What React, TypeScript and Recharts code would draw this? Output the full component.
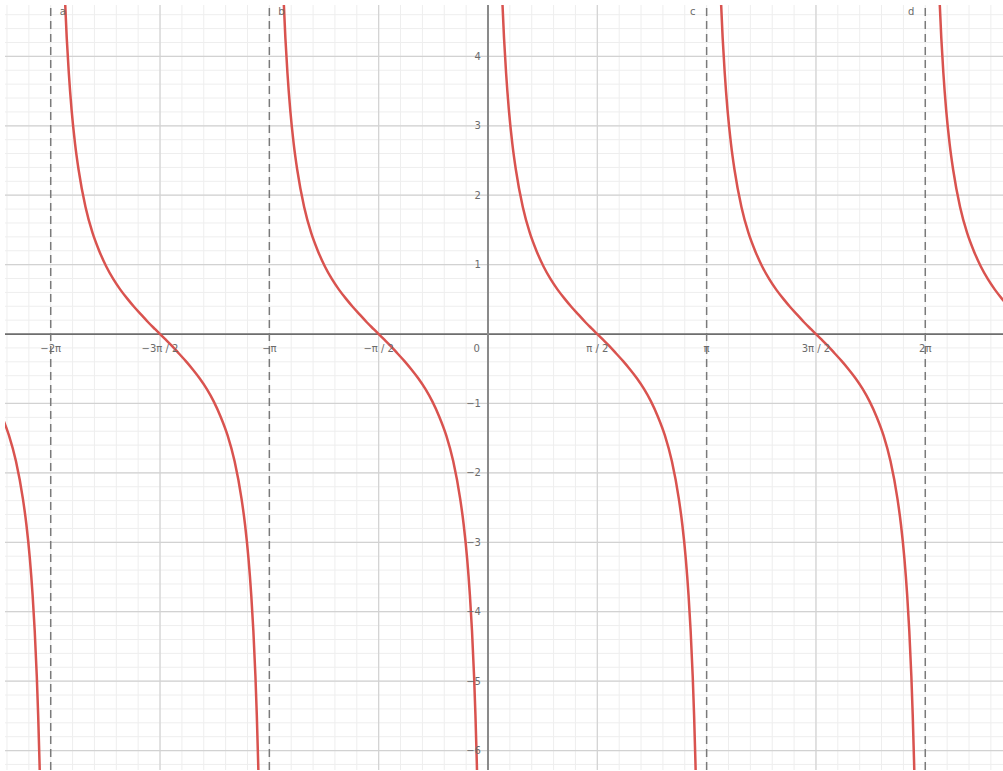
import { LineChart, Line, XAxis, YAxis, ReferenceLine, ReferenceDot } from 'recharts';

const PI = Math.PI;

// visible window of the graph
const xDomain = [-6.94, 7.4];
const yDomain = [-6.28, 4.74];

// one cot branch, offsets from its left asymptote and the read heights
const branchOffsets = [
  0.12, 0.14, 0.16, 0.18, 0.2, 0.23, 0.26, 0.3, 0.35, 0.4, 0.5, 0.6, 0.7, 0.8, 0.9, 1.0, 1.1, 1.2, 1.3, 1.4, 1.5,
  1.5708, 1.6416, 1.7416, 1.8416, 1.9416, 2.0416, 2.1416, 2.2416, 2.3416, 2.4416, 2.5416, 2.6416, 2.7416,
  2.7916, 2.8416, 2.8816, 2.9116, 2.9416, 2.9616, 2.9816, 3.0016, 3.0216,
];
const branchY = [
  8.29, 7.1, 6.2, 5.5, 4.93, 4.27, 3.76, 3.23, 2.74, 2.37, 1.83, 1.46, 1.19, 0.97, 0.79, 0.64, 0.51, 0.39, 0.28, 0.17, 0.07,
  0, -0.07, -0.17, -0.28, -0.39, -0.51, -0.64, -0.79, -0.97, -1.19, -1.46, -1.83, -2.37,
  -2.74, -3.23, -3.76, -4.27, -4.93, -5.5, -6.2, -7.1, -8.29,
];

// left asymptote of each visible branch
const branchStarts = [-3 * PI, -2 * PI, -PI, 0, PI, 2 * PI];

// dashed asymptotes drawn on the graph
const asymptotes = [-2 * PI, -PI, PI, 2 * PI];
const asymptoteNames = ['a', 'b', 'c', 'd'];

const xTicks = [-2 * PI, -1.5 * PI, -PI, -0.5 * PI, 0.5 * PI, PI, 1.5 * PI, 2 * PI];
const xTickLabels = ['−2π', '−3π / 2', '−π', '−π / 2', 'π / 2', 'π', '3π / 2', '2π'];
const yTicks = [4, 3, 2, 1, -1, -2, -3, -4, -5, -6];
const yTickLabels = ['4', '3', '2', '1', '−1', '−2', '−3', '−4', '−5', '−6'];

const minorX: number[] = [];
for (let k = -22; k <= 23; k++) minorX.push((k * PI) / 10);
const minorY: number[] = [];
for (let k = -31; k <= 23; k++) minorY.push(k / 5);

const majorX = [-1.5 * PI, -0.5 * PI, 0.5 * PI, 1.5 * PI];
const majorY = [4, 3, 2, 1, -1, -2, -3, -4, -5, -6];

const font = '"DejaVu Sans", Arial, sans-serif';

const makeLabel = (text: string, dx: number, dy: number, anchor: string) => (props: any) => {
  const { viewBox } = props;
  return (
    <text
      x={viewBox.x + viewBox.width / 2 + dx}
      y={viewBox.y + viewBox.height / 2 + dy}
      textAnchor={anchor}
      dominantBaseline="central"
      fontFamily={font}
      fontSize={10}
      fill="#6b6b6b"
    >
      {text}
    </text>
  );
};

export default function App() {
  const branches = branchStarts.map((a) =>
    branchOffsets.map((t, i) => ({ x: a + t, y: branchY[i] }))
  );

  return (
    <div style={{ position: 'absolute', left: 0, top: 0, width: 1003, height: 771, background: '#fff' }}>
      <LineChart width={1003} height={771} margin={{ top: 5, right: 0, bottom: 1, left: 5 }}>
        <XAxis type="number" dataKey="x" domain={xDomain} allowDataOverflow hide />
        <YAxis type="number" dataKey="y" domain={yDomain} allowDataOverflow hide />

        {minorX.map((v) => (
          <ReferenceLine key={'mx' + v} x={v} stroke="#eeeeee" strokeWidth={1} />
        ))}
        {minorY.map((v) => (
          <ReferenceLine key={'my' + v} y={v} stroke="#eeeeee" strokeWidth={1} />
        ))}
        {majorX.map((v) => (
          <ReferenceLine key={'Mx' + v} x={v} stroke="#d2d2d2" strokeWidth={1.2} />
        ))}
        {majorY.map((v) => (
          <ReferenceLine key={'My' + v} y={v} stroke="#d2d2d2" strokeWidth={1.2} />
        ))}

        <ReferenceLine y={0} stroke="#6e6e6e" strokeWidth={1.8} />
        <ReferenceLine x={0} stroke="#8a8a8a" strokeWidth={2} />

        {asymptotes.map((v) => (
          <ReferenceLine key={'as' + v} x={v} stroke="#7a7a7a" strokeWidth={1.5} strokeDasharray="8 5" />
        ))}

        {branches.map((d, i) => (
          <Line
            key={'b' + i}
            data={d}
            dataKey="y"
            type="monotone"
            stroke="#d9534f"
            strokeWidth={2.5}
            dot={false}
            isAnimationActive={false}
          />
        ))}

        {xTicks.map((v, i) => (
          <ReferenceDot key={'xl' + i} x={v} y={0} r={0} fill="none" stroke="none"
            label={makeLabel(xTickLabels[i], 0, 14, 'middle')} />
        ))}
        <ReferenceDot x={0} y={0} r={0} fill="none" stroke="none" label={makeLabel('0', -8, 14, 'end')} />
        {yTicks.map((v, i) => (
          <ReferenceDot key={'yl' + i} x={0} y={v} r={0} fill="none" stroke="none"
            label={makeLabel(yTickLabels[i], -7, 0, 'end')} />
        ))}
        {asymptotes.map((v, i) => (
          <ReferenceDot key={'an' + i} x={v} y={yDomain[1]} r={0} fill="none" stroke="none"
            label={makeLabel(asymptoteNames[i], v < 0 ? 12 : -14, 6, 'middle')} />
        ))}
      </LineChart>
    </div>
  );
}
